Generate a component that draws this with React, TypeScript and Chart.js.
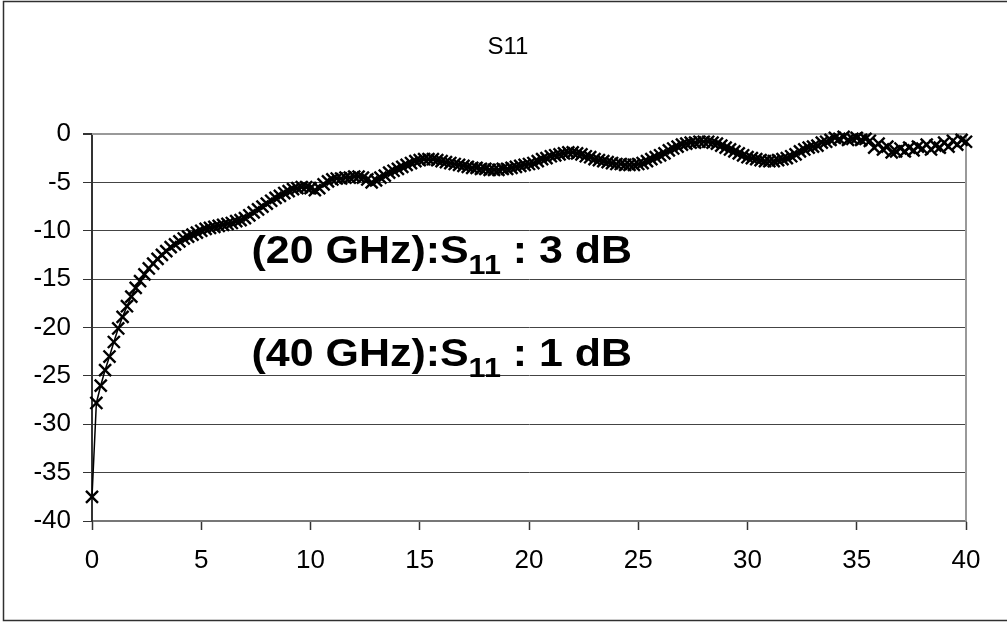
import React, { useEffect, useRef } from "react";
import { Chart, registerables } from "chart.js";

Chart.register(...registerables);

const TITLE = "S11";

const FREQ_GHZ = [
  0, 0.2, 0.4, 0.6, 0.8, 1.0, 1.2, 1.4, 1.6, 1.8,
  2.0, 2.2, 2.4, 2.6, 2.8, 3.0, 3.2, 3.4, 3.6, 3.8,
  4.0, 4.2, 4.4, 4.6, 4.8, 5.0, 5.2, 5.4, 5.6, 5.8,
  6.0, 6.2, 6.4, 6.6, 6.8, 7.0, 7.2, 7.4, 7.6, 7.8,
  8.0, 8.2, 8.4, 8.6, 8.8, 9.0, 9.2, 9.4, 9.6, 9.8,
  10.0, 10.2, 10.4, 10.6, 10.8, 11.0, 11.2, 11.4, 11.6, 11.8,
  12.0, 12.2, 12.4, 12.6, 12.8, 13.0, 13.2, 13.4, 13.6, 13.8,
  14.0, 14.2, 14.4, 14.6, 14.8, 15.0, 15.2, 15.4, 15.6, 15.8,
  16.0, 16.2, 16.4, 16.6, 16.8, 17.0, 17.2, 17.4, 17.6, 17.8,
  18.0, 18.2, 18.4, 18.6, 18.8, 19.0, 19.2, 19.4, 19.6, 19.8,
  20.0, 20.2, 20.4, 20.6, 20.8, 21.0, 21.2, 21.4, 21.6, 21.8,
  22.0, 22.2, 22.4, 22.6, 22.8, 23.0, 23.2, 23.4, 23.6, 23.8,
  24.0, 24.2, 24.4, 24.6, 24.8, 25.0, 25.2, 25.4, 25.6, 25.8,
  26.0, 26.2, 26.4, 26.6, 26.8, 27.0, 27.2, 27.4, 27.6, 27.8,
  28.0, 28.2, 28.4, 28.6, 28.8, 29.0, 29.2, 29.4, 29.6, 29.8,
  30.0, 30.2, 30.4, 30.6, 30.8, 31.0, 31.2, 31.4, 31.6, 31.8,
  32.0, 32.2, 32.4, 32.6, 32.8, 33.0, 33.2, 33.4, 33.6, 33.8,
  34.0, 34.2, 34.4, 34.6, 34.8, 35.0, 35.2, 35.4, 35.6, 35.8,
  36.0, 36.2, 36.4, 36.6, 36.8, 37.0, 37.2, 37.4, 37.6, 37.8,
  38.0, 38.2, 38.4, 38.6, 38.8, 39.0, 39.2, 39.4, 39.6, 39.8,
  40.0,
];

const S11_DB = [
  -37.5, -27.8, -26.0, -24.4, -23.0, -21.5, -20.1, -18.9, -17.8, -16.8,
  -15.9, -15.2, -14.5, -13.9, -13.4, -12.9, -12.5, -12.1, -11.7, -11.4,
  -11.1, -10.8, -10.6, -10.4, -10.2, -10.0, -9.8, -9.7, -9.6, -9.5,
  -9.4, -9.3, -9.2, -9.0, -8.9, -8.7, -8.4, -8.1, -7.8, -7.5,
  -7.2, -6.9, -6.6, -6.4, -6.1, -5.9, -5.7, -5.6, -5.5, -5.5,
  -5.6, -5.8, -5.6, -5.2, -4.9, -4.7, -4.6, -4.6, -4.5, -4.5,
  -4.4, -4.4, -4.5, -4.7, -5.0, -4.8, -4.5, -4.3, -4.0, -3.8,
  -3.6, -3.4, -3.2, -3.0, -2.8, -2.7, -2.6, -2.6, -2.6, -2.7,
  -2.8, -2.9, -3.0, -3.1, -3.2, -3.3, -3.4, -3.5, -3.5, -3.6,
  -3.6, -3.7, -3.7, -3.7, -3.6, -3.6, -3.5, -3.4, -3.3, -3.2,
  -3.1, -3.0, -2.8, -2.6, -2.5, -2.3, -2.2, -2.1, -2.0, -1.9,
  -1.9, -2.0, -2.1, -2.3, -2.4, -2.6, -2.7, -2.8, -2.9, -3.0,
  -3.1, -3.1, -3.2, -3.2, -3.2, -3.1, -3.0, -2.8, -2.6, -2.4,
  -2.2, -2.0, -1.7, -1.5, -1.3, -1.1, -1.0, -0.9, -0.9, -0.8,
  -0.8, -0.8, -0.9, -1.0, -1.2, -1.4, -1.6, -1.8, -2.0, -2.2,
  -2.4, -2.5, -2.6, -2.7, -2.8, -2.8, -2.8, -2.7, -2.6, -2.5,
  -2.3, -2.1, -1.8, -1.6, -1.4, -1.3, -1.2, -0.9, -0.8, -0.6,
  -0.4, -0.5, -0.3, -0.6, -0.5, -0.4, -0.6, -0.5, -0.7, -1.4,
  -1.0, -1.6, -1.3, -1.9, -1.8, -1.5, -1.8, -1.4, -1.7, -1.3,
  -1.5, -1.1, -1.6, -1.2, -1.4, -0.9, -1.3, -0.7, -1.1, -0.6,
  -0.8,
];

const X_MIN = 0;
const X_MAX = 40;
const X_STEP = 5;
const Y_MIN = -40;
const Y_MAX = 0;
const Y_STEP = 5;

const NOTE_PREFIXES = ["(20 GHz):S", "(40 GHz):S"];
const NOTE_SUBSCRIPTS = ["11", "11"];
const NOTE_SUFFIXES = [" : 3 dB", " : 1 dB"];

const FONT = "'Liberation Sans', Arial, sans-serif";
const STRETCH = 1.13;

function drawStretched(
  ctx: CanvasRenderingContext2D,
  parts: { text: string; font: string; dy: number }[],
  x: number,
  y: number,
  align: "left" | "center",
  stretch: number
) {
  ctx.save();
  ctx.translate(x, y);
  ctx.scale(stretch, 1);
  let total = 0;
  for (const p of parts) {
    ctx.font = p.font;
    total += ctx.measureText(p.text).width;
  }
  let cx = align === "center" ? -total / 2 : 0;
  ctx.textAlign = "left";
  ctx.textBaseline = "alphabetic";
  ctx.fillStyle = "#000";
  for (const p of parts) {
    ctx.font = p.font;
    ctx.fillText(p.text, cx, p.dy);
    cx += ctx.measureText(p.text).width;
  }
  ctx.restore();
}

const overlayPlugin = {
  id: "overlay",
  beforeDatasetsDraw(chart: any) {
    const { ctx, chartArea: a } = chart;
    ctx.save();
    ctx.strokeStyle = "#999";
    ctx.lineWidth = 2;
    ctx.beginPath();
    ctx.moveTo(a.left, a.top);
    ctx.lineTo(a.right, a.top);
    ctx.lineTo(a.right, a.bottom);
    ctx.stroke();
    ctx.restore();
  },
  afterDraw(chart: any) {
    const { ctx } = chart;
    ctx.save();
    ctx.strokeStyle = "#303030";
    ctx.lineWidth = 1.5;
    ctx.strokeRect(3.5, 1.5, 1030, 619);
    ctx.restore();

    drawStretched(ctx, [{ text: TITLE, font: `24px ${FONT}`, dy: 0 }], 508, 54, "center", 1);

    const xs = chart.scales.x;
    const ys = chart.scales.y;
    const anchorsX = [7.3, 7.3];
    const anchorsY = [-13.3, -24.0];
    for (let i = 0; i < NOTE_PREFIXES.length; i++) {
      drawStretched(
        ctx,
        [
          { text: NOTE_PREFIXES[i], font: `bold 38px ${FONT}`, dy: 0 },
          { text: NOTE_SUBSCRIPTS[i], font: `bold 27px ${FONT}`, dy: 11 },
          { text: NOTE_SUFFIXES[i], font: `bold 38px ${FONT}`, dy: 0 },
        ],
        xs.getPixelForValue(anchorsX[i]),
        ys.getPixelForValue(anchorsY[i]),
        "left",
        STRETCH
      );
    }
  },
};

export default function App() {
  const canvasRef = useRef<HTMLCanvasElement | null>(null);

  useEffect(() => {
    if (!canvasRef.current) return;
    const points = FREQ_GHZ.map((f, i) => ({ x: f, y: S11_DB[i] }));
    const chart = new Chart(canvasRef.current, {
      type: "scatter",
      data: {
        datasets: [
          {
            label: TITLE,
            data: points,
            showLine: true,
            borderColor: "#000",
            borderWidth: 1.5,
            pointStyle: "crossRot",
            pointRadius: 8.5,
            pointBorderWidth: 2.4,
            pointBorderColor: "#000",
            pointBackgroundColor: "rgba(0,0,0,0)",
            tension: 0,
            clip: false,
          } as any,
        ],
      },
      options: {
        animation: false,
        responsive: false,
        devicePixelRatio: 1,
        layout: { padding: { left: 0, top: 134, right: 41, bottom: 0 } },
        plugins: {
          legend: { display: false },
          tooltip: { enabled: false },
          title: { display: false },
        },
        scales: {
          x: {
            type: "linear",
            min: X_MIN,
            max: X_MAX,
            afterFit: (s: any) => {
              s.height = 101;
            },
            ticks: {
              stepSize: X_STEP,
              color: "#000",
              font: { family: FONT, size: 26 },
              padding: 15,
              maxRotation: 0,
            },
            grid: {
              drawOnChartArea: false,
              drawTicks: true,
              tickLength: 9,
              tickColor: "#333",
              tickWidth: 1.5,
            },
            border: { display: true, color: "#777", width: 2 },
          },
          y: {
            type: "linear",
            min: Y_MIN,
            max: Y_MAX,
            afterFit: (s: any) => {
              s.width = 92;
            },
            ticks: {
              stepSize: Y_STEP,
              color: "#000",
              font: { family: FONT, size: 26 },
              padding: 12,
            },
            grid: {
              color: (c: any) => (c.tick && c.tick.value === 0 ? "#999" : "#444"),
              lineWidth: (c: any) => (c.tick && c.tick.value === 0 ? 2 : 1),
              drawTicks: true,
              tickLength: 9,
              tickColor: "#333",
            },
            border: { display: true, color: "#333", width: 2 },
          },
        },
      },
      plugins: [overlayPlugin],
    });
    return () => chart.destroy();
  }, []);

  return (
    <div style={{ position: "absolute", left: 0, top: 0, width: 1007, height: 622, background: "#fff" }}>
      <canvas ref={canvasRef} width={1007} height={622} style={{ width: 1007, height: 622, display: "block" }} />
    </div>
  );
}
